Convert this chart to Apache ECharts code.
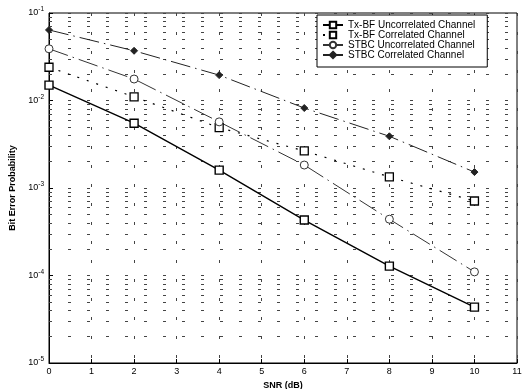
<!DOCTYPE html>
<html><head><meta charset="utf-8">
<script src="https://cdn.jsdelivr.net/npm/echarts@6/dist/echarts.min.js"></script>
<style>html,body{margin:0;padding:0;background:#fff}#c{width:532px;height:389px}</style>
</head><body><div id="c"></div>
<script>
var snr = [0, 2, 4, 6, 8, 10];
var txbfUncorr = [1.5e-2, 5.5e-3, 1.6e-3, 4.3e-4, 1.28e-4, 4.35e-5];
var txbfCorr = [2.4e-2, 1.1e-2, 4.9e-3, 2.65e-3, 1.34e-3, 7.1e-4];
var stbcUncorr = [3.9e-2, 1.76e-2, 5.7e-3, 1.83e-3, 4.4e-4, 1.1e-4];
var stbcCorr = [6.4e-2, 3.7e-2, 1.95e-2, 8.2e-3, 3.9e-3, 1.52e-3];
var seriesNames = ['Tx-BF Uncorrelated Channel', 'Tx-BF Correlated Channel', 'STBC Uncorrelated Channel', 'STBC Correlated Channel'];
var minorGridValues = [];
[1e-5, 1e-4, 1e-3, 1e-2].forEach(function (d) {
  for (var m = 2; m <= 9; m++) minorGridValues.push(m * d);
});
var xMin = 0, xMax = 11;

function pts(ys) { return snr.map(function (x, i) { return [x, ys[i]]; }); }
var font = '"Liberation Sans", Arial, sans-serif';
var gridLine = { color: '#444', width: 1, type: [3, 16] };

var chart = echarts.init(document.getElementById('c'), null, { renderer: 'canvas' });
chart.setOption({
  animation: false,
  textStyle: { fontFamily: font },
  grid: { left: 49, right: 15, top: 13, bottom: 26, show: true, borderColor: '#000', borderWidth: 1,
          containLabel: false, outerBoundsMode: 'none' },
  legend: {
    orient: 'vertical', left: 317, top: 15, z: 20,
    backgroundColor: '#fff', borderColor: '#000', borderWidth: 1,
    padding: [5, 12, 7, 5], itemGap: 0, itemWidth: 20, itemHeight: 8,
    textStyle: { fontSize: 10, color: '#000', fontFamily: font, lineHeight: 10 },
    data: seriesNames
  },
  xAxis: {
    type: 'value', min: xMin, max: xMax, interval: 1,
    name: 'SNR (dB)', nameLocation: 'middle', nameGap: 16,
    nameTextStyle: { fontSize: 9, fontWeight: 'bold', color: '#000' },
    axisLine: { lineStyle: { color: '#000' } },
    axisTick: { inside: true, length: 4, lineStyle: { color: '#000' } },
    axisLabel: { fontSize: 9, color: '#000', margin: 4 },
    splitLine: { show: true, lineStyle: gridLine }
  },
  yAxis: {
    type: 'log', logBase: 10, min: 1e-5, max: 1e-1,
    name: 'Bit Error Probability', nameLocation: 'middle', nameGap: 29, nameRotate: 90,
    nameTextStyle: { fontSize: 9, fontWeight: 'bold', color: '#000' },
    axisLine: { lineStyle: { color: '#000' } },
    axisTick: { inside: true, length: 4, lineStyle: { color: '#000' } },
    axisLabel: {
      color: '#000', margin: 5,
      formatter: function (v) { return '{b|10}{s|' + Math.round(Math.log10(v)) + '}'; },
      rich: { b: { fontSize: 9, color: '#000' }, s: { fontSize: 6.5, color: '#000', padding: [0, 0, 7, 0] } }
    },
    splitLine: { show: true, lineStyle: gridLine }
  },
  series: [
    {
      name: seriesNames[0], type: 'line', data: pts(txbfUncorr),
      symbol: 'rect', symbolSize: 8,
      lineStyle: { color: '#000', width: 1.4, type: 'solid' },
      itemStyle: { color: '#fff', borderColor: '#000', borderWidth: 1.4 },
      markLine: {
        silent: true, symbol: 'none', label: { show: false },
        lineStyle: gridLine, animation: false, z: 1,
        data: minorGridValues.map(function (v) { return [{ coord: [xMin, v] }, { coord: [xMax, v] }]; })
      },
      z: 5
    },
    {
      name: seriesNames[1], type: 'line', data: pts(txbfCorr),
      symbol: 'rect', symbolSize: 8,
      lineStyle: { color: '#000', width: 1.2, type: [2, 8] },
      itemStyle: { color: '#fff', borderColor: '#000', borderWidth: 1.3 },
      z: 5
    },
    {
      name: seriesNames[2], type: 'line', data: pts(stbcUncorr),
      symbol: 'circle', symbolSize: 8,
      lineStyle: { color: '#333', width: 1, type: [20, 5, 1.5, 5] },
      itemStyle: { color: '#fff', borderColor: '#333', borderWidth: 1 },
      z: 5
    },
    {
      name: seriesNames[3], type: 'line', data: pts(stbcCorr),
      symbol: 'diamond', symbolSize: 7,
      lineStyle: { color: '#222', width: 1, type: [20, 5, 1.5, 5] },
      itemStyle: { color: '#222', borderColor: '#222', borderWidth: 1 },
      z: 5
    }
  ]
});
</script></body></html>
